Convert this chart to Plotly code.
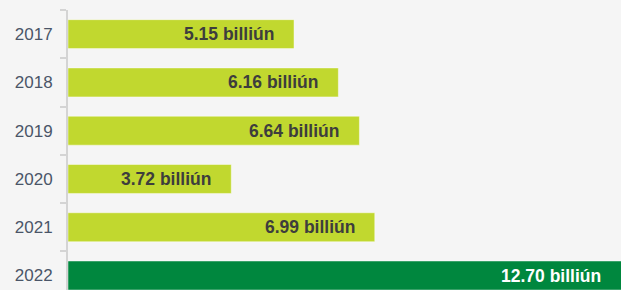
import plotly.graph_objects as go

years = ["2017", "2018", "2019", "2020", "2021", "2022"]
values = [5.15, 6.16, 6.64, 3.72, 6.99, 12.70]
labels = ["5.15 billiún", "6.16 billiún", "6.64 billiún", "3.72 billiún", "6.99 billiún", "12.70 billiún"]
colors = ["#c1d82f", "#c1d82f", "#c1d82f", "#c1d82f", "#c1d82f", "#00873e"]
text_colors = ["#3d3d3d", "#3d3d3d", "#3d3d3d", "#3d3d3d", "#3d3d3d", "#ffffff"]

x_max = 12.6

fig = go.Figure(go.Bar(
    y=years, x=values, orientation="h",
    marker=dict(color=colors, line=dict(color="rgba(255,255,255,0.45)", width=1)),
    width=0.6,
    hoverinfo="skip",
))

for i, (v, t, c) in enumerate(zip(values, labels, text_colors)):
    fig.add_annotation(x=min(v, x_max), y=i, xref="x", yref="y",
                       text="<b>%s</b>" % t, showarrow=False,
                       xanchor="right", yanchor="middle", xshift=-18,
                       font=dict(family="Liberation Sans, Arial", size=17.5, color=c))

fig.update_layout(
    width=621, height=290,
    margin=dict(l=68, r=0, t=10, b=0),
    paper_bgcolor="#f5f5f5", plot_bgcolor="#f5f5f5",
    showlegend=False,
    xaxis=dict(range=[0, x_max], visible=False, fixedrange=True),
    yaxis=dict(type="category", range=[5.3, -0.5], showgrid=False, fixedrange=True,
               showline=True, linecolor="#d4d4d4", linewidth=2,
               ticks="outside", ticklen=6, tickcolor="#d4d4d4", tickwidth=2,
               tickson="boundaries", ticklabelstandoff=10,
               tickfont=dict(family="Liberation Sans, Arial", size=17, color="#4a5568")),
)

fig.write_html("out.html", config={"displayModeBar": False},
               post_script="document.body.style.margin='0';document.body.style.background='#f5f5f5';")
